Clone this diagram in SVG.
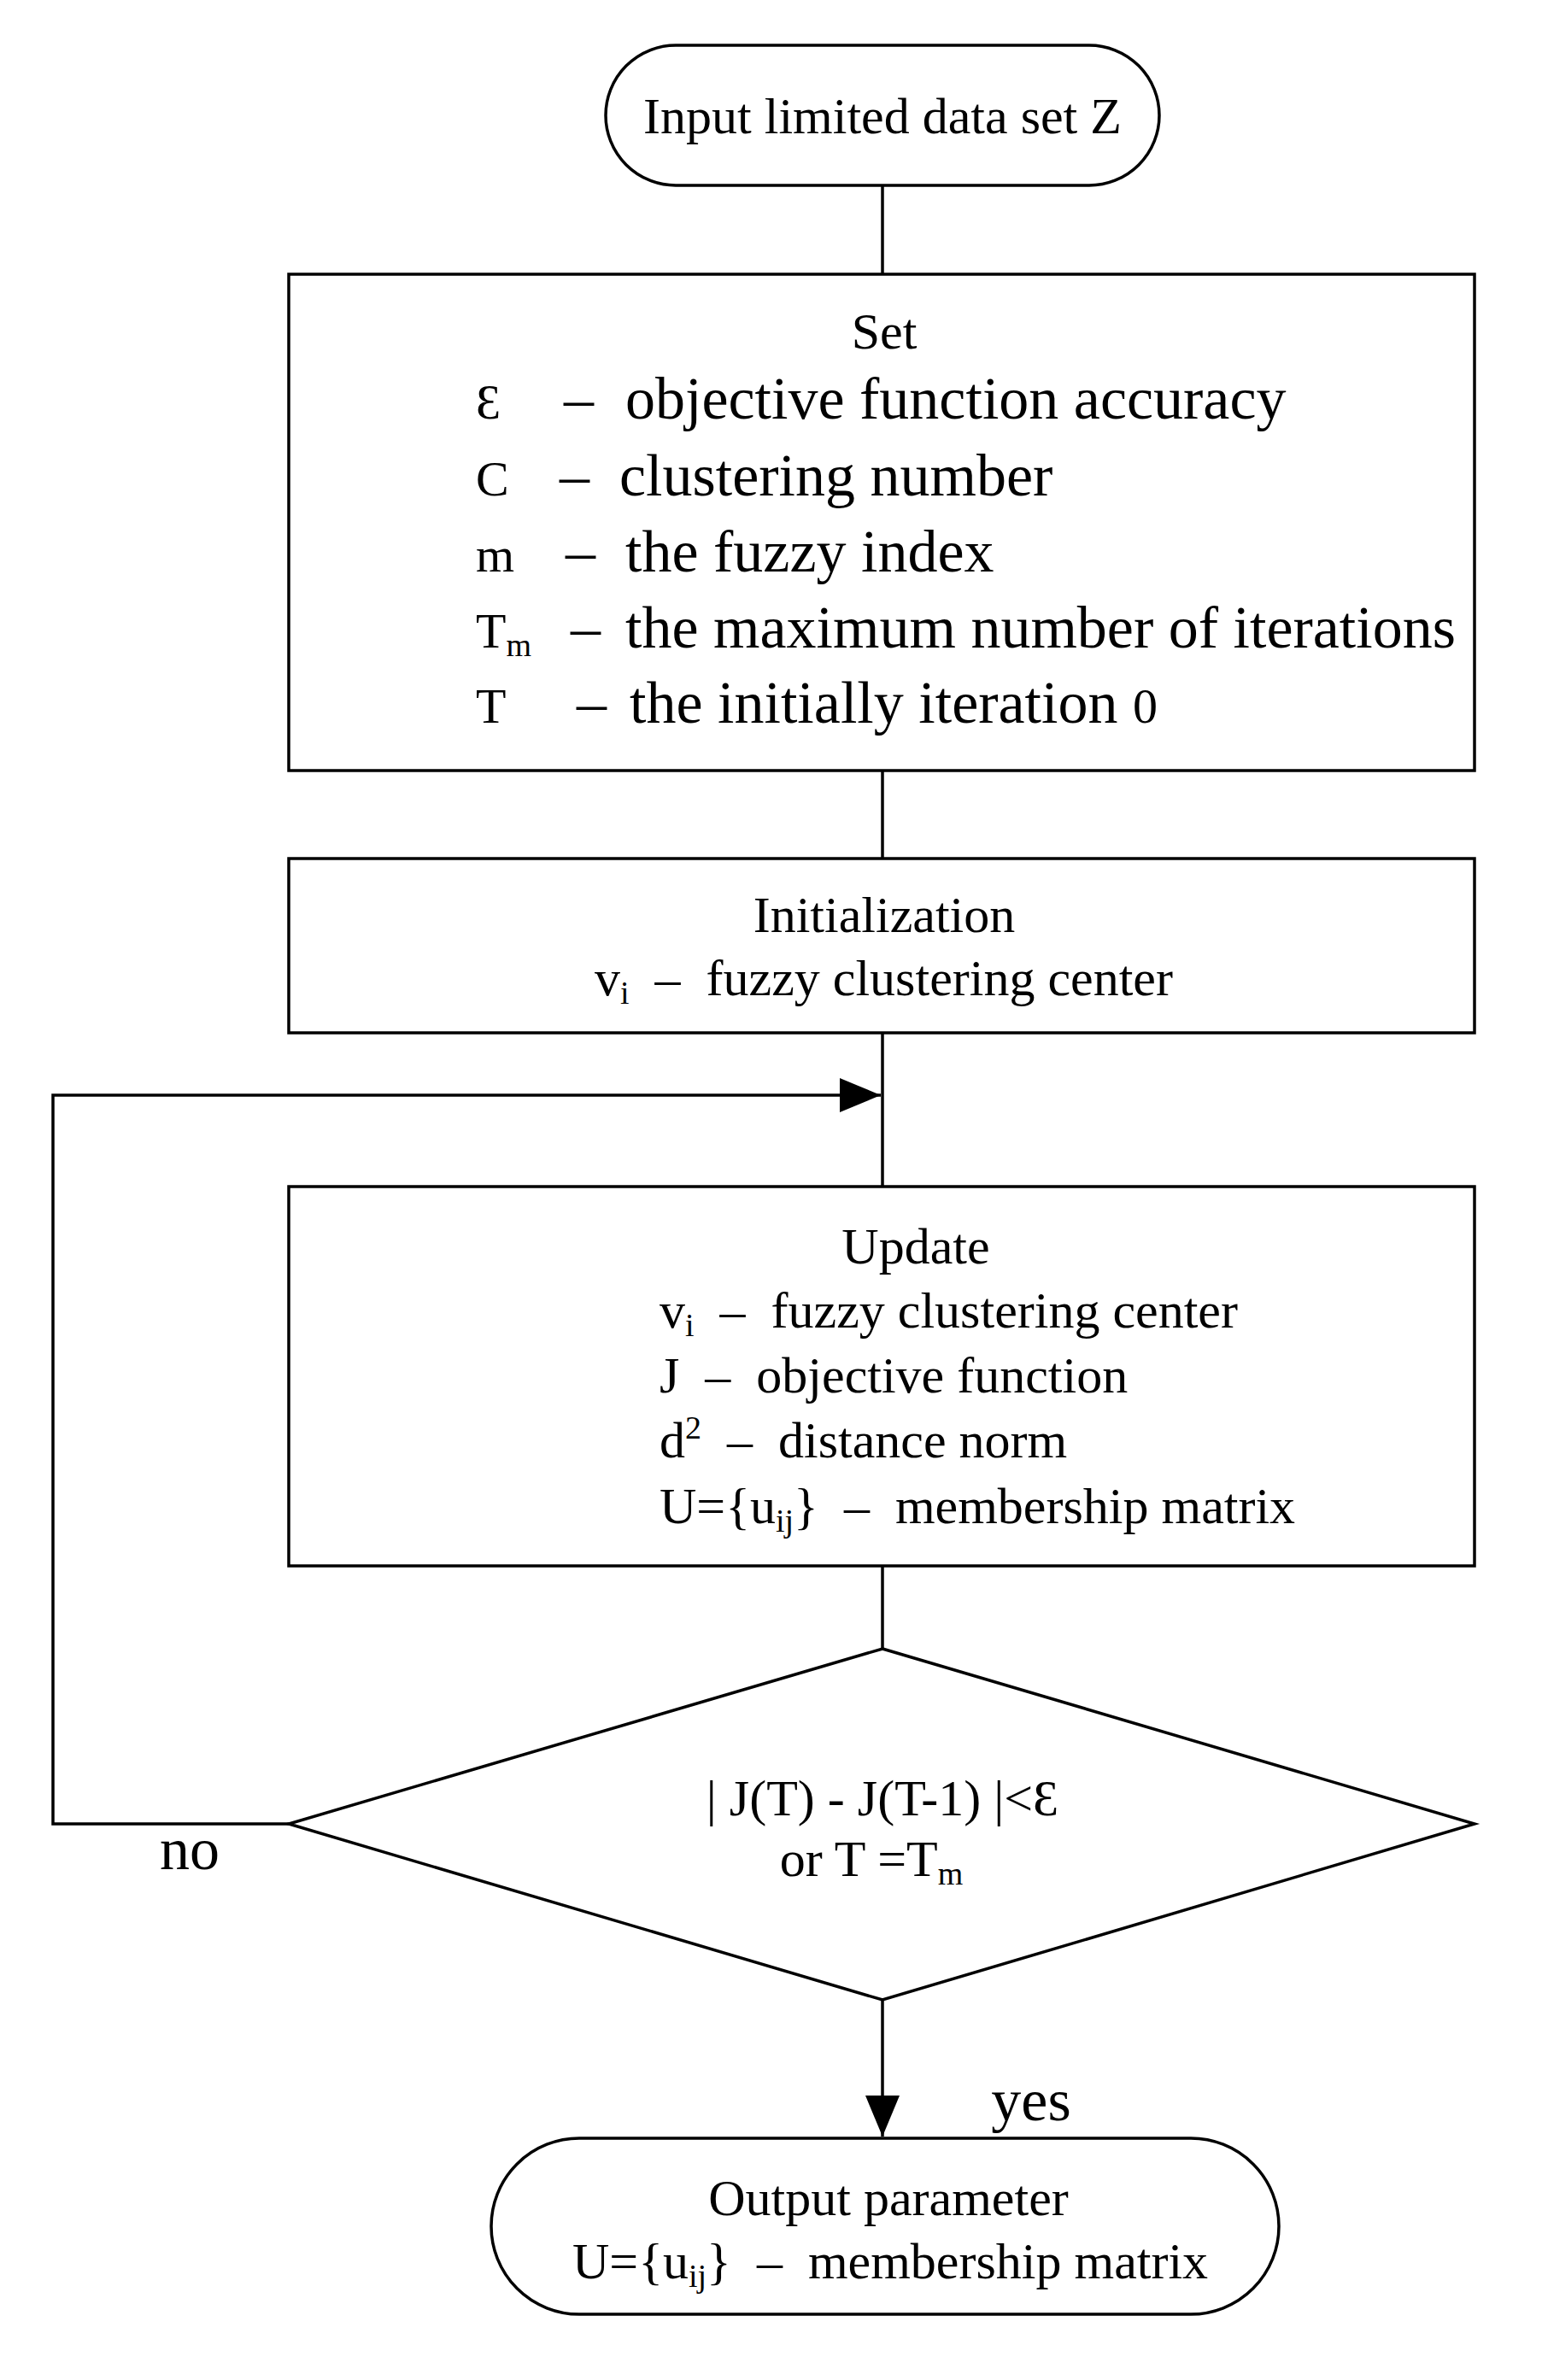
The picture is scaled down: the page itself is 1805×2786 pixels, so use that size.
<svg xmlns="http://www.w3.org/2000/svg" width="1805" height="2786" viewBox="0 0 1805 2786">
<style>
.s{fill:none;stroke:#000;stroke-width:3.5}
text{font-family:"Liberation Serif","Times New Roman",serif;fill:#000;font-size:60px}
.b{font-size:70px}
.y{font-size:58px}
.m{text-anchor:middle}
.sub{font-size:38px}
</style>
<defs><marker id="ah" viewBox="0 0 12 10" refX="12" refY="5" markerWidth="48" markerHeight="40" orient="auto" markerUnits="userSpaceOnUse"><path d="M0,0L12,5L0,10z"/></marker></defs>
<rect width="1805" height="2786" fill="#fff"/>
<g id="connectors">
<line class="s" x1="1033" y1="217" x2="1033" y2="321"/>
<line class="s" x1="1033" y1="902" x2="1033" y2="1005"/>
<line class="s" x1="1033" y1="1209" x2="1033" y2="1389"/>
<line class="s" x1="1033" y1="1833" x2="1033" y2="1930"/>
<polyline class="s" points="338,2135 62,2135 62,1282 1031,1282" marker-end="url(#ah)"/>
<line class="s" x1="1033" y1="2341" x2="1033" y2="2501" marker-end="url(#ah)"/>
<text x="222" y="2188" class="b m">no</text>
<text x="1207" y="2482" class="b m">yes</text>
</g>
<g id="start"><rect class="s" x="709" y="53" width="648" height="164" rx="82"/>
<text x="1033" y="156" class="m">Input limited data set Z</text></g>
<g id="set"><rect class="s" x="338" y="321" width="1388" height="581"/>
<text x="1035" y="408" class="m">Set</text>
<text x="557" y="490" class="y">Ɛ</text><text x="660" y="490" class="b">–</text><text x="732" y="490" class="b">objective function accuracy</text>
<text x="557" y="580" class="y">C</text><text x="655" y="580" class="b">–</text><text x="725" y="580" class="b">clustering number</text>
<text x="557" y="669" class="y">m</text><text x="662" y="669" class="b">–</text><text x="732" y="669" class="b">the fuzzy index</text>
<text x="557" y="758" class="y">T<tspan class="sub" dy="10">m</tspan></text><text x="668" y="758" class="b">–</text><text x="732" y="758" class="b">the maximum number of iterations</text>
<text x="557" y="846" class="y">T</text><text x="675" y="846" class="b">–</text><text x="737" y="846" class="b">the initially iteration <tspan style="font-size:58px">0</tspan></text></g>
<g id="init"><rect class="s" x="338" y="1005" width="1388" height="204"/>
<text x="1035" y="1091" class="m">Initialization</text>
<text x="696" y="1165">v<tspan class="sub" dy="10">i</tspan><tspan dy="-10">&#160;&#160;–&#160;&#160;fuzzy clustering center</tspan></text></g>
<g id="update"><rect class="s" x="338" y="1389" width="1388" height="444"/>
<text x="1072" y="1479" class="m">Update</text>
<text x="772" y="1554">v<tspan class="sub" dy="10">i</tspan><tspan dy="-10">&#160;&#160;–&#160;&#160;fuzzy clustering center</tspan></text>
<text x="772" y="1630">J&#160;&#160;–&#160;&#160;objective function</text>
<text x="772" y="1706">d<tspan class="sub" dy="-22">2</tspan><tspan dy="22">&#160;&#160;–&#160;&#160;distance norm</tspan></text>
<text x="772" y="1783">U={u<tspan class="sub" dy="10">ij</tspan><tspan dy="-10">}&#160;&#160;–&#160;&#160;membership matrix</tspan></text></g>
<g id="decision"><polygon class="s" points="1033,1930 1726,2135 1033,2341 338,2135"/>
<text x="1033" y="2125" class="m">| J(T) - J(T-1) |&lt;Ɛ</text>
<text x="1020" y="2196" class="m">or T =T<tspan class="sub" dy="10">m</tspan></text></g>
<g id="end"><rect class="s" x="575" y="2503" width="922" height="206" rx="103"/>
<text x="1040" y="2593" class="m">Output parameter</text>
<text x="670" y="2667">U={u<tspan class="sub" dy="10">ij</tspan><tspan dy="-10">}&#160;&#160;–&#160;&#160;membership matrix</tspan></text></g>
</svg>
